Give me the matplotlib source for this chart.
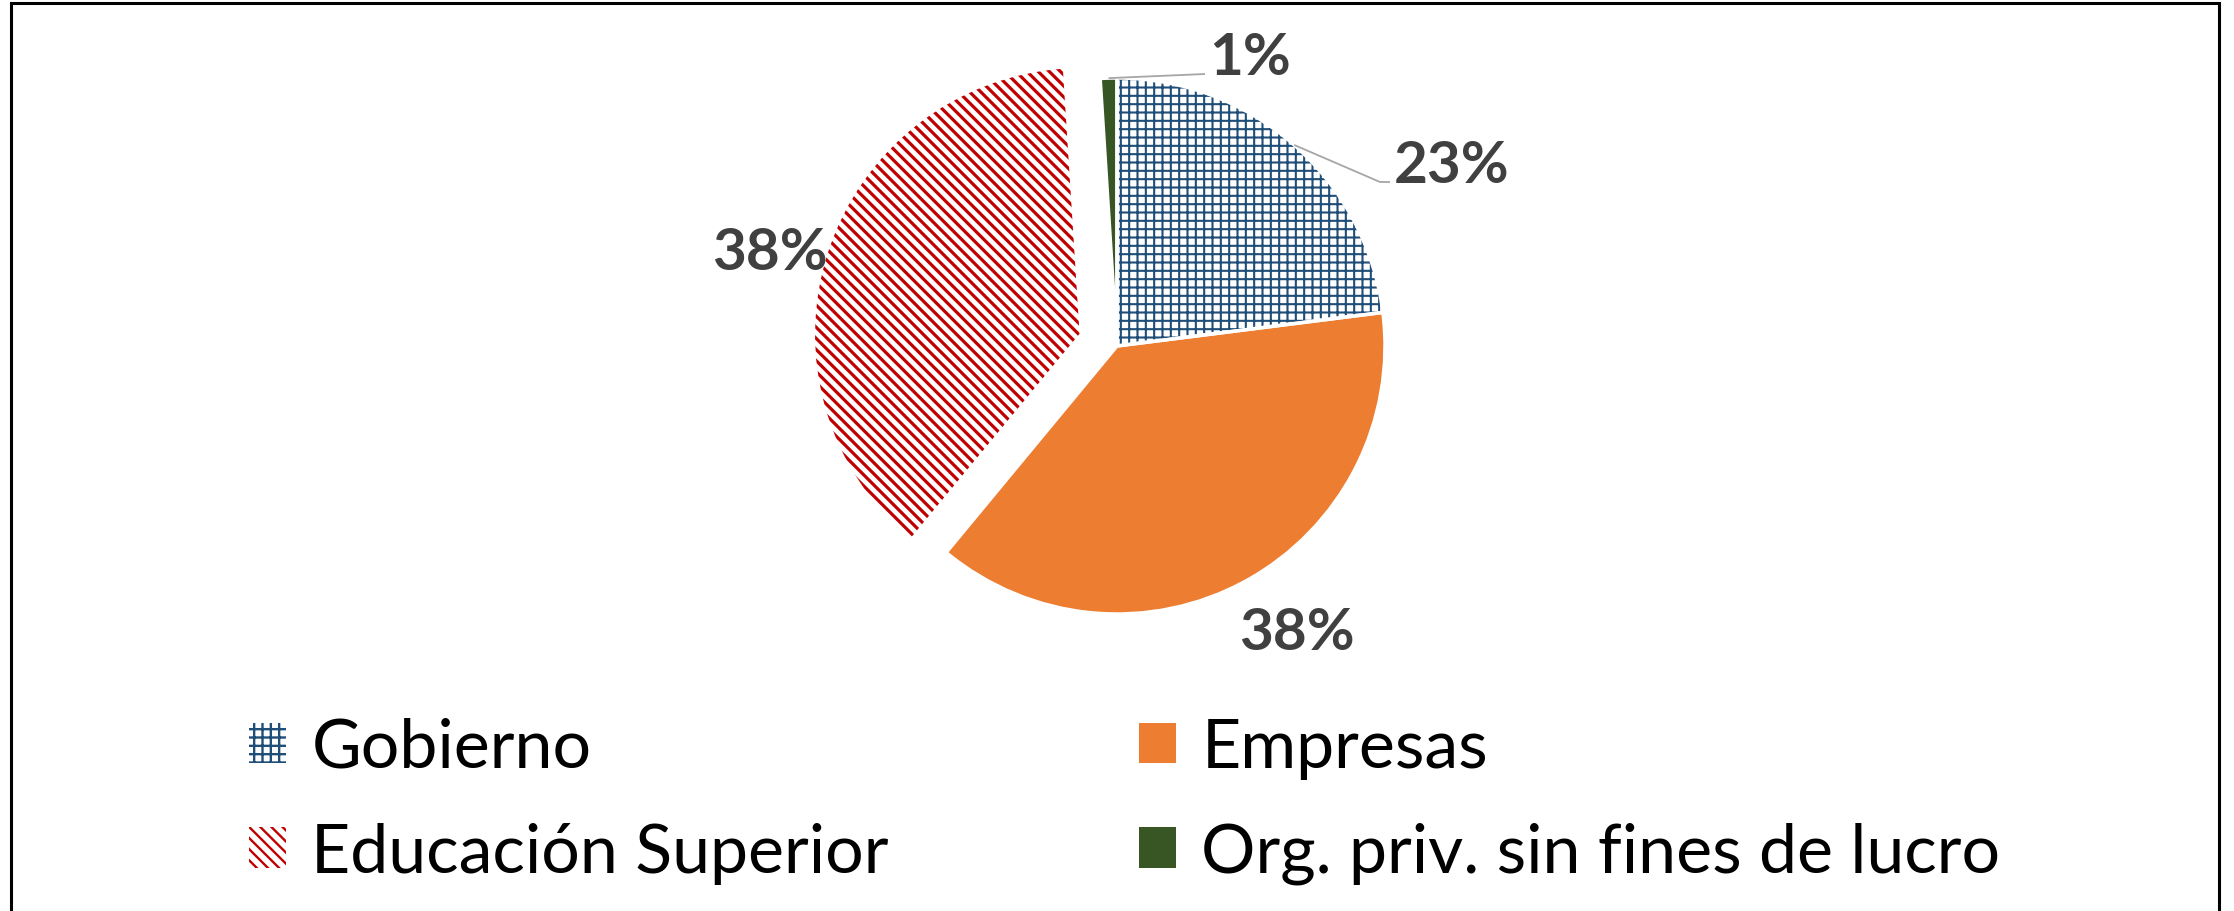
import numpy as np
import matplotlib
matplotlib.use('Agg')
import matplotlib.pyplot as plt
from matplotlib.patches import Rectangle


# data
sectors = ['Gobierno', 'Empresas', 'Educación Superior', 'Org. priv. sin fines de lucro']
shares = [23, 38, 38, 1]
pct_labels = ['23%', '38%', '38%', '1%']

# styles
face_colors = ['white', '#ED7D31', 'white', '#375623']
hatch_colors = ['#1F4E79', '#ED7D31', '#C00000', '#375623']
hatches = ['++', None, '\\\\\\', None]
hatch_lw = [1.5, 1.5, 2.3, 1.5]
explode_frac = [0, 0, 0.14, 0]
txt_grey = '#404040'
lead_grey = '#A6A6A6'

plt.rcParams['hatch.linewidth'] = 1.7

W, H = 2234, 912
fig = plt.figure(figsize=(W / 100, H / 100), dpi=100)
ax = fig.add_axes([0, 0, 1, 1])

cx, cy, r = 1117, H - 347, 268

wedges, _ = ax.pie(shares, colors=face_colors, startangle=90, counterclock=False,
                   center=(cx, cy), radius=r, explode=[e * r for e in explode_frac],
                   wedgeprops=dict(linewidth=0), frame=True)
for w, hc, h, hl in zip(wedges, hatch_colors, hatches, hatch_lw):
    w.set_edgecolor(hc)
    w.set_linewidth(0)
    if h:
        w.set_hatch(h)
        if hasattr(w, 'set_hatch_linewidth'):
            w.set_hatch_linewidth(hl)

# white separators between slices
ax.pie(shares, colors=['none'] * 4, startangle=90, counterclock=False,
       center=(cx, cy), radius=r, explode=[e * r for e in explode_frac],
       wedgeprops=dict(linewidth=2.5, edgecolor='white', fill=False), frame=True)
ax.set_xlim(0, W)
ax.set_ylim(0, H)
ax.set_aspect('equal')
ax.axis('off')

# percentage labels (Excel-like placement)
fs_pct = 42
def arc_point(wd, frac=1.0):
    ang = np.deg2rad((wd.theta1 + wd.theta2) / 2)
    return wd.center[0] + wd.r * frac * np.cos(ang), wd.center[1] + wd.r * frac * np.sin(ang)

# slices with leader lines: Gobierno (0), Org (3)
lead_end = {0: [(1380, H - 183), (1390, H - 183)], 3: [(1205, H - 75)]}
for i, pts in lead_end.items():
    x0, y0 = arc_point(wedges[i])
    xs = [x0] + [p[0] for p in pts]
    ys = [y0] + [p[1] for p in pts]
    ax.plot(xs, ys, color=lead_grey, lw=1.3, solid_capstyle='butt')
    ax.text(xs[-1] + 4, ys[-1], pct_labels[i], ha='left', va='baseline',
            fontsize=fs_pct, fontweight='bold', color=txt_grey, family='Lato')

centre_pos = {1: (1297, H - 633), 2: (770, H - 253)}
for i, (tx, ty) in centre_pos.items():
    ax.text(tx, ty, pct_labels[i], ha='center', va='center',
            fontsize=fs_pct, fontweight='bold', color=txt_grey, family='Lato')

# legend, two columns
leg_kw = dict(frameon=False, loc='upper left', bbox_transform=ax.transData,
              prop=dict(family='Lato', size=49), handlelength=0.545, handleheight=0.545,
              handletextpad=0.37, labelspacing=0.63, borderpad=0, borderaxespad=0)
leg1 = ax.legend([wedges[0], wedges[2]], [sectors[0], sectors[2]],
                 bbox_to_anchor=(249, H - 718), **leg_kw)
ax.add_artist(leg1)
leg2 = ax.legend([wedges[1], wedges[3]], [sectors[1], sectors[3]],
                 bbox_to_anchor=(1139, H - 718), **leg_kw)

# outer frame
ax.add_patch(Rectangle((11, -30), 2208, H - 4 + 30, fill=False, edgecolor='black', lw=2.2,
                       clip_on=False))

fig.savefig('out.png', dpi=100)
